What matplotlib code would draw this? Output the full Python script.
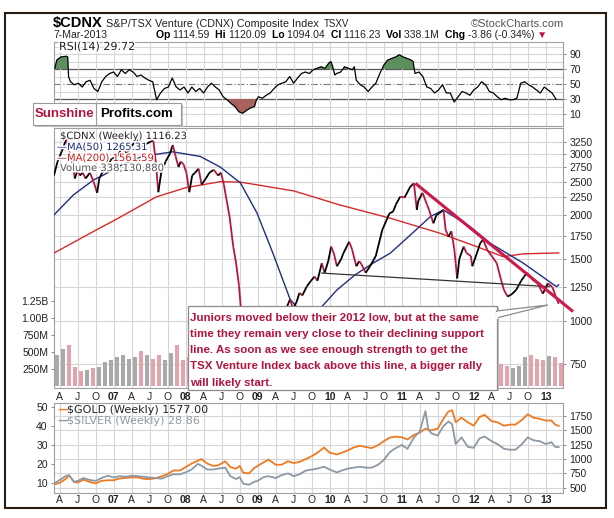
import numpy as np
import matplotlib
matplotlib.use("Agg")
import matplotlib.pyplot as plt
import matplotlib.ticker as mticker
import matplotlib.patheffects as pe
from matplotlib.collections import LineCollection
from matplotlib.patches import Rectangle, Polygon

# ---------------- data (time in decimal years) ----------------
price = [
    (2006.17, 2600), (2006.22, 2850), (2006.28, 3050), (2006.34, 3300), (2006.38, 3050),
    (2006.42, 2900), (2006.46, 2550), (2006.50, 2700), (2006.53, 2600), (2006.57, 2650),
    (2006.61, 2550), (2006.67, 2650), (2006.72, 2500), (2006.77, 2320), (2006.80, 2550),
    (2006.84, 2650), (2006.88, 2700), (2006.92, 2800), (2006.97, 2900), (2007.05, 2950),
    (2007.13, 3150), (2007.18, 3000), (2007.24, 3150), (2007.30, 3250), (2007.36, 3300),
    (2007.40, 3150), (2007.45, 3200), (2007.51, 3250), (2007.55, 3280), (2007.58, 2900),
    (2007.62, 2330), (2007.66, 2650), (2007.72, 2850), (2007.78, 3000), (2007.82, 3180),
    (2007.86, 2950), (2007.90, 2750), (2007.93, 2850), (2007.97, 2800), (2008.01, 2650),
    (2008.05, 2330), (2008.09, 2600), (2008.13, 2650), (2008.18, 2720), (2008.22, 2450),
    (2008.28, 2550), (2008.33, 2650), (2008.39, 2700), (2008.45, 2600), (2008.49, 2650),
    (2008.53, 2450), (2008.57, 2200), (2008.61, 1980), (2008.66, 1630), (2008.70, 1460),
    (2008.74, 1260), (2008.78, 1000), (2008.82, 800), (2008.86, 850), (2008.89, 700),
    (2008.93, 680), (2008.97, 750), (2009.03, 820), (2009.08, 800), (2009.14, 780),
    (2009.18, 720), (2009.24, 850), (2009.30, 900), (2009.35, 1000), (2009.41, 1100),
    (2009.45, 1150), (2009.49, 1080), (2009.54, 1130), (2009.58, 1200), (2009.62, 1180),
    (2009.68, 1250), (2009.74, 1300), (2009.79, 1336), (2009.83, 1300), (2009.89, 1459),
    (2009.93, 1370), (2009.98, 1480), (2010.02, 1628), (2010.06, 1550), (2010.10, 1430),
    (2010.16, 1500), (2010.19, 1558), (2010.27, 1681), (2010.31, 1600), (2010.37, 1430),
    (2010.41, 1480), (2010.44, 1450), (2010.50, 1370), (2010.56, 1430), (2010.64, 1530),
    (2010.73, 1817), (2010.83, 2027), (2010.88, 2050), (2010.92, 2150), (2010.98, 2263),
    (2011.04, 2250), (2011.12, 2418), (2011.17, 2470), (2011.21, 2073), (2011.23, 2200),
    (2011.29, 2320), (2011.35, 2150), (2011.38, 2073), (2011.44, 1898), (2011.48, 2000),
    (2011.52, 2027), (2011.58, 2073), (2011.61, 1817), (2011.65, 1738), (2011.69, 1800),
    (2011.73, 1600), (2011.75, 1459), (2011.77, 1320), (2011.80, 1500), (2011.86, 1628),
    (2011.90, 1560), (2011.96, 1530), (2011.98, 1430), (2012.04, 1550), (2012.09, 1664),
    (2012.13, 1705), (2012.19, 1590), (2012.26, 1520), (2012.32, 1459), (2012.38, 1307),
    (2012.42, 1224), (2012.47, 1171), (2012.53, 1190), (2012.59, 1224), (2012.66, 1300),
    (2012.70, 1336), (2012.74, 1370), (2012.82, 1307), (2012.89, 1277), (2012.96, 1194),
    (2013.03, 1277), (2013.09, 1250), (2013.14, 1171), (2013.18, 1116.23),
]
ma50 = [
    (2006.17, 2005), (2006.44, 2288), (2006.72, 2526), (2006.86, 2610), (2007.10, 2780),
    (2007.40, 2950), (2007.82, 3040), (2008.20, 2950), (2008.48, 2750), (2008.76, 2476),
    (2008.99, 2032), (2009.21, 1561), (2009.45, 1150), (2009.52, 1107), (2009.70, 1000),
    (2009.91, 1107), (2010.10, 1223), (2010.35, 1350), (2010.60, 1459), (2010.84, 1558),
    (2011.15, 1780), (2011.40, 1985), (2011.58, 2072), (2011.95, 1856), (2012.23, 1664),
    (2012.69, 1459), (2013.15, 1250), (2013.18, 1265.31),
]
ma200 = [
    (2006.17, 1560), (2006.81, 1841), (2007.00, 1930), (2007.59, 2258), (2008.00, 2400),
    (2008.48, 2497), (2008.76, 2490), (2009.50, 2350), (2010.14, 2142), (2010.84, 1963),
    (2011.53, 1778), (2012.04, 1628), (2012.41, 1523), (2012.69, 1552), (2013.18, 1561.59),
]
rsi = [
    (2006.182, 71), (2006.21, 82), (2006.264, 86), (2006.345, 87), (2006.362, 86),
    (2006.373, 60), (2006.40, 53), (2006.454, 49), (2006.509, 51), (2006.563, 46),
    (2006.617, 53), (2006.672, 55), (2006.726, 44), (2006.78, 40), (2006.835, 53),
    (2006.889, 60), (2006.944, 64), (2006.998, 66), (2007.052, 60), (2007.107, 69),
    (2007.161, 64), (2007.215, 69), (2007.27, 66), (2007.324, 60), (2007.379, 62),
    (2007.433, 58), (2007.487, 55), (2007.542, 53), (2007.596, 29), (2007.65, 38),
    (2007.705, 44), (2007.759, 46), (2007.813, 58), (2007.868, 46), (2007.922, 42),
    (2007.977, 46), (2008.031, 38), (2008.085, 46), (2008.14, 40), (2008.194, 44),
    (2008.249, 38), (2008.303, 46), (2008.357, 51), (2008.412, 46), (2008.466, 42),
    (2008.52, 33), (2008.575, 29), (2008.629, 24), (2008.684, 20), (2008.738, 13),
    (2008.792, 11), (2008.847, 15), (2008.901, 18), (2008.956, 20), (2008.983, 29),
    (2009.01, 33), (2009.064, 31), (2009.119, 35), (2009.173, 38), (2009.227, 44),
    (2009.282, 49), (2009.336, 51), (2009.39, 53), (2009.445, 60), (2009.499, 51),
    (2009.554, 58), (2009.608, 64), (2009.663, 66), (2009.717, 64), (2009.771, 69),
    (2009.826, 71), (2009.88, 73), (2009.934, 71), (2009.989, 78), (2010.016, 80),
    (2010.043, 73), (2010.07, 62), (2010.097, 64), (2010.152, 66), (2010.206, 73),
    (2010.261, 71), (2010.315, 69), (2010.342, 73), (2010.369, 55), (2010.424, 49),
    (2010.478, 46), (2010.533, 40), (2010.587, 46), (2010.641, 51), (2010.696, 64),
    (2010.75, 75), (2010.805, 82), (2010.859, 84), (2010.913, 86), (2010.968, 89),
    (2011.022, 86), (2011.076, 84), (2011.131, 82), (2011.158, 80), (2011.185, 64),
    (2011.24, 66), (2011.294, 60), (2011.348, 46), (2011.403, 44), (2011.457, 38),
    (2011.511, 42), (2011.566, 49), (2011.62, 38), (2011.675, 38), (2011.729, 26),
    (2011.783, 33), (2011.838, 40), (2011.892, 38), (2011.946, 35), (2012.001, 42),
    (2012.055, 46), (2012.109, 53), (2012.164, 49), (2012.218, 40), (2012.273, 38),
    (2012.327, 33), (2012.381, 29), (2012.436, 31), (2012.49, 29), (2012.545, 29),
    (2012.599, 31), (2012.653, 51), (2012.708, 53), (2012.762, 49), (2012.817, 46),
    (2012.871, 42), (2012.925, 38), (2012.98, 46), (2013.034, 42), (2013.088, 38),
    (2013.143, 29.72),
]
# monthly volume in millions, March 2006 .. March 2013
vol_first_month = (2006, 3)
volume_m = [
    450, 550, 600, 280, 220, 230, 260, 280, 350, 380,
    420, 450, 400, 430, 520, 450, 400, 450, 380, 480, 600, 380,
    430, 400, 380, 350, 400, 380, 330, 300, 380, 450, 300, 250,
    300, 280, 300, 350, 400, 380, 330, 320, 400, 420, 380, 400,
    420, 350, 380, 400, 380, 300, 280, 300, 380, 450, 480, 500,
    520, 480, 500, 450, 400, 380, 330, 420, 380, 350, 330, 280,
    350, 380, 360, 320, 330, 300, 260, 300, 420, 450, 400, 380,
    440, 420, 338,
]
gold = [
    (2006.17, 555), (2006.25, 585), (2006.33, 650), (2006.38, 715), (2006.45, 600), (2006.5, 590),
    (2006.58, 640), (2006.67, 600), (2006.75, 575), (2006.83, 620), (2006.92, 630),
    (2007.0, 630), (2007.08, 660), (2007.17, 670), (2007.25, 680), (2007.33, 680), (2007.42, 655),
    (2007.5, 650), (2007.58, 665), (2007.67, 700), (2007.75, 740), (2007.83, 800), (2007.92, 800),
    (2008.0, 860), (2008.08, 920), (2008.17, 970), (2008.22, 1000), (2008.3, 920), (2008.38, 880),
    (2008.45, 890), (2008.55, 960), (2008.62, 860), (2008.7, 830), (2008.75, 880), (2008.8, 760),
    (2008.88, 750), (2008.95, 840),
    (2009.0, 880), (2009.08, 940), (2009.15, 990), (2009.25, 900), (2009.33, 900), (2009.42, 960),
    (2009.5, 930), (2009.58, 950), (2009.67, 1000), (2009.75, 1050), (2009.83, 1110), (2009.92, 1200),
    (2010.0, 1110), (2010.1, 1080), (2010.17, 1110), (2010.25, 1150), (2010.33, 1200), (2010.42, 1230),
    (2010.5, 1210), (2010.58, 1190), (2010.67, 1240), (2010.75, 1310), (2010.83, 1370), (2010.9, 1390),
    (2011.0, 1380), (2011.08, 1340), (2011.17, 1420), (2011.25, 1460), (2011.33, 1530), (2011.4, 1500),
    (2011.5, 1530), (2011.58, 1700), (2011.65, 1830), (2011.7, 1850), (2011.75, 1640), (2011.83, 1720),
    (2011.92, 1640),
    (2012.0, 1580), (2012.08, 1730), (2012.15, 1770), (2012.25, 1660), (2012.33, 1640), (2012.42, 1580),
    (2012.5, 1600), (2012.58, 1600), (2012.67, 1680), (2012.75, 1780), (2012.83, 1720), (2012.92, 1700),
    (2013.0, 1670), (2013.08, 1670), (2013.13, 1600), (2013.18, 1577.00),
]
silver = [
    (2006.17, 9.5), (2006.25, 11.5), (2006.33, 13.5), (2006.38, 14.0), (2006.45, 10.5), (2006.5, 11.0),
    (2006.58, 12.5), (2006.67, 11.5), (2006.75, 11.0), (2006.83, 12.5), (2006.92, 13.8),
    (2007.0, 12.8), (2007.08, 13.5), (2007.17, 13.2), (2007.25, 13.8), (2007.33, 13.5), (2007.42, 13.2),
    (2007.5, 12.8), (2007.58, 12.5), (2007.67, 12.2), (2007.75, 13.5), (2007.83, 14.5), (2007.92, 14.5),
    (2008.0, 15.5), (2008.08, 17.0), (2008.17, 20.0), (2008.22, 19.0), (2008.3, 17.0), (2008.38, 17.0),
    (2008.45, 17.5), (2008.55, 18.0), (2008.62, 13.5), (2008.7, 12.0), (2008.75, 13.0), (2008.8, 9.5),
    (2008.88, 9.0), (2008.95, 10.5),
    (2009.0, 11.0), (2009.08, 13.0), (2009.15, 13.5), (2009.25, 12.5), (2009.33, 14.0), (2009.42, 15.0),
    (2009.5, 13.5), (2009.58, 14.5), (2009.67, 16.5), (2009.75, 17.0), (2009.83, 17.5), (2009.92, 18.5),
    (2010.0, 17.0), (2010.1, 15.5), (2010.17, 16.5), (2010.25, 17.5), (2010.33, 18.0), (2010.42, 18.5),
    (2010.5, 18.0), (2010.58, 18.0), (2010.67, 19.5), (2010.75, 22.0), (2010.83, 26.0), (2010.9, 28.0),
    (2011.0, 30.0), (2011.08, 28.0), (2011.17, 34.0), (2011.25, 37.0), (2011.3, 44.0), (2011.33, 48.0),
    (2011.37, 38.0), (2011.42, 36.0), (2011.5, 35.0), (2011.58, 40.0), (2011.65, 42.5), (2011.7, 41.0),
    (2011.75, 30.5), (2011.83, 34.0), (2011.92, 29.0),
    (2012.0, 28.5), (2012.08, 33.5), (2012.15, 34.5), (2012.25, 32.0), (2012.33, 30.5), (2012.42, 28.0),
    (2012.5, 27.5), (2012.58, 27.5), (2012.67, 30.5), (2012.75, 34.0), (2012.83, 32.5), (2012.92, 32.0),
    (2013.0, 30.5), (2013.08, 31.5), (2013.13, 29.0), (2013.18, 28.86),
]
support_line = [(2009.89, 1367), (2013.05, 1250)]
resistance_line = [(2011.19, 2470), (2013.38, 1061)]

rsi_ticks = [90, 70, 50, 30, 10]
price_ticks = [3250, 3000, 2750, 2500, 2250, 2000, 1750, 1500, 1250, 1000, 750]
vol_ticks = [250, 500, 750, 1000, 1250]
vol_tick_labels = ["250M", "500M", "750M", "1.00B", "1.25B"]
gold_ticks = [500, 750, 1000, 1250, 1500, 1750]
silver_ticks = [10, 20, 30, 40, 50]
month_letters = {4: "A", 7: "J", 10: "O"}

annotation = [
    "Juniors moved below their 2012 low, but at the same",
    "time they remain very close to their declining support",
    "line. As soon as we see enough strength to get the",
    "TSX Venture Index back above this line, a bigger rally",
    "will likely start.",
]

# ---------------- layout helpers ----------------
W, H = 614, 518
fig = plt.figure(figsize=(W / 100, H / 100), dpi=100)
fig.patch.set_facecolor("white")
FONT = "Liberation Sans"
plt.rcParams["font.family"] = [FONT, "DejaVu Sans"]
renderer = fig.canvas.get_renderer()


def rect(x0, y0, x1, y1):
    return [x0 / W, 1 - y1 / H, (x1 - x0) / W, (y1 - y0) / H]


def P(x, y):
    return (x / W, 1 - y / H)


X0, X1 = 54, 563
T0, T1 = 2006.171, 2013.240
GRID = "#d6d6d6"
SPINE = "#a0a0a0"
TXT = "#222222"
CRIMSON = "#b3143c"

quarters = []
qlabels = []
for yr in range(2006, 2014):
    for m in (1, 4, 7, 10):
        q = yr + (m - 1) / 12
        if T0 <= q <= T1:
            quarters.append(q)
            qlabels.append("%02d" % (yr % 100) if m == 1 else month_letters[m])


def base_style(ax, show_x=False, pad=2):
    ax.set_xlim(T0, T1)
    ax.set_xticks(quarters)
    ax.grid(True, axis="x", color=GRID, lw=0.8, zorder=0)
    for s in ax.spines.values():
        s.set_color(SPINE)
        s.set_linewidth(0.8)
    ax.tick_params(axis="x", length=0, pad=pad, labelsize=7.5, colors=TXT)
    ax.tick_params(axis="y", length=2.5, width=0.6, color="#777777", pad=2, labelsize=7.5, labelcolor=TXT)
    if show_x:
        ax.set_xticklabels(qlabels)
        for lab, txt in zip(ax.get_xticklabels(), qlabels):
            if txt.isdigit():
                lab.set_fontweight("bold")
    else:
        ax.set_xticklabels([])


halo = [pe.withStroke(linewidth=2.2, foreground="white")]

# ---------------- RSI panel ----------------
ax_r = fig.add_axes(rect(X0, 42, X1, 126))
base_style(ax_r)
ax_r.set_ylim(-6, 106)
ax_r.yaxis.tick_right()
ax_r.set_yticks(rsi_ticks)
for lv in range(10, 101, 10):
    if lv in (30, 70):
        ax_r.axhline(lv, color="#555555", lw=0.9, zorder=1)
    elif lv == 50:
        ax_r.axhline(lv, color="#777777", lw=0.8, ls=(0, (6, 2, 1, 2)), zorder=1)
    else:
        ax_r.axhline(lv, color=GRID, lw=0.8, zorder=0)
rt = np.array([p[0] for p in rsi])
rv = np.array([p[1] for p in rsi])
ax_r.fill_between(rt, rv, 70, where=rv >= 70, interpolate=True, color="#5e8f5e", lw=0, zorder=2)
ax_r.fill_between(rt, rv, 30, where=rv <= 30, interpolate=True, color="#a8625e", lw=0, zorder=2)
ax_r.plot(rt, rv, color="black", lw=0.9, zorder=3)
fig.text(*P(59, 47), "RSI(14) 29.72", fontsize=8, family="DejaVu Sans", color=TXT, va="center",
         path_effects=halo)

# ---------------- main price panel ----------------
ax_p = fig.add_axes(rect(X0, 128, X1, 388))
base_style(ax_p, show_x=True, pad=3)
ax_p.set_yscale("log")
ax_p.set_ylim(641, 3557)
ax_p.yaxis.tick_right()
ax_p.set_yticks(price_ticks)
ax_p.set_yticklabels([str(v) for v in price_ticks])
ax_p.yaxis.set_minor_locator(mticker.NullLocator())
ax_p.yaxis.set_minor_formatter(mticker.NullFormatter())
ax_p.grid(True, axis="y", color=GRID, lw=0.8, zorder=0)

# volume overlay
ax_v = fig.add_axes(rect(X0, 128, X1, 388), facecolor="none")
ax_v.set_xlim(T0, T1)
ax_v.set_ylim(-29, 3794)
ax_v.set_xticks([])
for s in ax_v.spines.values():
    s.set_visible(False)
ax_v.set_yticks(vol_ticks)
ax_v.set_yticklabels(vol_tick_labels)
ax_v.tick_params(axis="y", length=2.5, width=0.6, color="#777777", pad=1.5, labelsize=7.5, labelcolor=TXT)

pt = np.array([p[0] for p in price])
pv = np.array([p[1] for p in price])
vol_t = np.array([vol_first_month[0] + (vol_first_month[1] - 1 + i + 0.5) / 12 for i in range(len(volume_m))])
up = np.interp(vol_t + 0.5 / 12, pt, pv) >= np.interp(vol_t - 0.5 / 12, pt, pv)
vcols = ["#a9a9a9" if u else "#e3a3ab" for u in up]
ax_v.bar(vol_t, volume_m, width=0.72 / 12, color=vcols, lw=0, zorder=1)

# moving averages
ax_p.plot([p[0] for p in ma200], [p[1] for p in ma200], color="#d42a2a", lw=1.0, zorder=3)
ax_p.plot([p[0] for p in ma50], [p[1] for p in ma50], color="#1f2f7f", lw=1.0, zorder=3)

# price segments, black when rising, crimson when falling
segs = [[(pt[i], pv[i]), (pt[i + 1], pv[i + 1])] for i in range(len(pt) - 1)]
scol = ["black" if pv[i + 1] >= pv[i] else "#b8163f" for i in range(len(pt) - 1)]
ax_p.add_collection(LineCollection(segs, colors=scol, linewidths=1.3, zorder=4))

# trend lines
ax_p.plot([p[0] for p in support_line], [p[1] for p in support_line], color="#333333", lw=0.9, zorder=5)
ax_p.plot([p[0] for p in resistance_line], [p[1] for p in resistance_line], color="#cc1a4a",
          lw=2.2, zorder=6, clip_on=False, solid_capstyle="butt")

# legend of main panel
leg_kw = dict(fontsize=7.2, family="DejaVu Sans", va="center", path_effects=halo, zorder=10)
fig.text(*P(60, 136), "$CDNX (Weekly) 1116.23", color=TXT, **leg_kw)
fig.text(*P(57, 147), "\u2014MA(50) 1265.31", color="#1f2f7f", **leg_kw)
fig.text(*P(57, 158), "\u2014MA(200) 1561.59", color="#c81e1e", **leg_kw)
fig.text(*P(60, 168), "Volume 338,130,880", color="#555555", **leg_kw)

# ---------------- gold / silver panel ----------------
ax_g = fig.add_axes(rect(X0, 403.3, X1, 492.7))
base_style(ax_g, show_x=True, pad=1.5)
ax_g.set_ylim(413, 1971)
ax_g.set_yticks(gold_ticks)
ax_g.grid(True, axis="y", color=GRID, lw=0.8, zorder=0)
ax_s = ax_g.twinx()
ax_g.yaxis.tick_right()
ax_s.yaxis.tick_left()
ax_s.set_ylim(4.76, 52.06)
ax_s.set_yticks(silver_ticks)
ax_s.tick_params(axis="y", length=2.5, width=0.6, color="#777777", pad=2, labelsize=7.5, labelcolor=TXT)
ax_g.tick_params(axis="y", length=2.5, width=0.6, color="#777777", pad=2, labelsize=7.5, labelcolor=TXT)
for s in ax_s.spines.values():
    s.set_visible(False)
ax_s.plot([p[0] for p in silver], [p[1] for p in silver], color="#8d99a4", lw=1.3, zorder=2)
ax_g.plot([p[0] for p in gold], [p[1] for p in gold], color="#ee7a22", lw=1.3, zorder=3)
fig.text(*P(57, 410), "\u2014", color="#ee7a22", fontsize=8, family="DejaVu Sans", va="center", fontweight="bold")
fig.text(*P(67, 410), "$GOLD (Weekly) 1577.00", color=TXT, fontsize=8, family="DejaVu Sans", va="center")
fig.text(*P(57, 421), "\u2014", color="#8d99a4", fontsize=8, family="DejaVu Sans", va="center", fontweight="bold")
fig.text(*P(67, 421), "$SILVER (Weekly) 28.86", color="#8d99a4", fontsize=8, family="DejaVu Sans", va="center")


# ---------------- header ----------------
def run_text(x, y, pieces, size, gap=0):
    for s, weight, color in pieces:
        t = fig.text(*P(x, y), s, fontsize=size, fontweight=weight, color=color, va="baseline", family=FONT)
        x += t.get_window_extent(renderer=renderer).width + gap
    return x


xe = run_text(53, 27, [("$CDNX", "bold", "black")], 10.5)
xe = run_text(xe + 3, 27, [("S&P/TSX Venture (CDNX) Composite Index", "normal", TXT)], 7.8)
run_text(xe + 5, 27, [("TSXV", "normal", TXT)], 7)
fig.text(*P(564, 24), "\u00a9StockCharts.com", fontsize=8, color="#555555", ha="right", va="center")
run_text(53, 38, [("7-Mar-2013", "normal", TXT)], 7.5)
run_text(156, 38, [
    ("Op ", "bold", "black"), ("1114.59  ", "normal", TXT),
    ("Hi ", "bold", "black"), ("1120.09  ", "normal", TXT),
    ("Lo ", "bold", "black"), ("1094.04  ", "normal", TXT),
    ("Cl ", "bold", "black"), ("1116.23  ", "normal", TXT),
    ("Vol ", "bold", "black"), ("338.1M  ", "normal", TXT),
    ("Chg ", "bold", "black"), ("-3.86 (-0.34%) ", "normal", TXT),
    ("\u25bc", "normal", "#c0143c"),
], 7.5)

# ---------------- overlays ----------------
# outer frame
fig.patches.append(Rectangle(P(5, 508), 601 / W, 495 / H, transform=fig.transFigure,
                             fill=False, edgecolor="#2a1c12", lw=1.5, zorder=20))
# Sunshine Profits logo
fig.patches.append(Rectangle(P(35, 127), 148 / W, 22.5 / H, transform=fig.transFigure,
                             facecolor="#bdbdbd", edgecolor="none", zorder=20))
fig.patches.append(Rectangle(P(33, 125), 148 / W, 22.5 / H, transform=fig.transFigure,
                             facecolor="white", edgecolor="#9a9a9a", lw=0.8, zorder=21))
fig.lines.append(plt.Line2D([96.5 / W, 96.5 / W], [1 - 103 / H, 1 - 125 / H], transform=fig.transFigure,
                            color="#9a9a9a", lw=0.8, zorder=22))
fig.text(*P(35, 114), "Sunshine", fontsize=9.5, fontweight="bold", color=CRIMSON,
         va="center", zorder=23)
fig.text(*P(100, 114), "Profits.com", fontsize=9.5, fontweight="bold", color="black",
         va="center", zorder=23)

# annotation box with callout
fig.patches.append(Rectangle(P(190, 391), 309 / W, 84.5 / H, transform=fig.transFigure,
                             facecolor="#c4c4c4", edgecolor="none", zorder=24))
fig.patches.append(Rectangle(P(188, 389.5), 309 / W, 84 / H, transform=fig.transFigure,
                             facecolor="white", edgecolor="#8c8c8c", lw=0.9, zorder=25))
fig.patches.append(Polygon([P(496.5, 311), P(548, 305), P(496.5, 318)], closed=True,
                           transform=fig.transFigure, facecolor="white", edgecolor="#8c8c8c",
                           lw=0.9, zorder=26))
fig.patches.append(Rectangle(P(495.5, 318.5), 2 / W, 7 / H, transform=fig.transFigure,
                             facecolor="white", edgecolor="none", zorder=27))
for i, line in enumerate(annotation):
    fig.text(*P(190, 317.3 + i * 16.3), line, fontsize=8.25, fontweight="bold", color=CRIMSON,
             va="center", zorder=28)

fig.savefig("out.png", dpi=100)
